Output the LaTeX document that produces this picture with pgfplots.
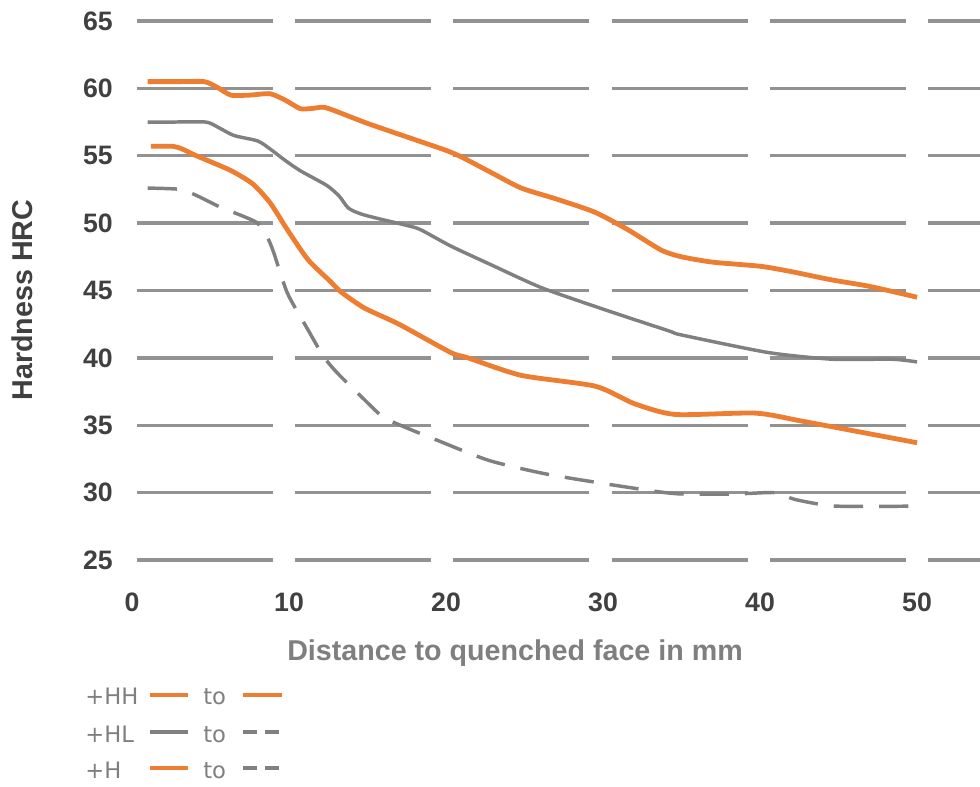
\documentclass[border=0pt]{standalone}
\usepackage{pgfplots}
\pgfplotsset{compat=1.18}
\usepackage{fontspec}
\setmainfont{Liberation Sans}
\newfontfamily\legendfont{DejaVu Sans}
\definecolor{hhorange}{HTML}{ED7D31}
\definecolor{sergray}{HTML}{808080}
\definecolor{gridgray}{HTML}{929292}
\definecolor{tickgray}{HTML}{404040}
\definecolor{labelgray}{HTML}{7F7F7F}
\begin{document}
\begin{tikzpicture}
\path[use as bounding box] (-99pt,-170.25pt) rectangle (636pt,420pt);
\begin{axis}[
  at={(0,0)}, anchor=south west,
  scale only axis, width=636pt, height=404.25pt,
  xmin=0, xmax=54.01, ymin=25, ymax=65,
  xtick={0,10,20,30,40,50},
  ytick={25,30,35,40,45,50,55,60,65},
  axis line style={draw=none},
  major tick length=0pt,
  tick style={draw=none},
  ymajorgrids,
  major grid style={draw=gridgray, line width=2.6pt, dash pattern=on 102pt off 16.65pt, dash phase=114.9pt},
  /pgf/number format/assume math mode=true,
  yticklabel style={font=\fontsize{20}{20}\selectfont\bfseries, text=tickgray, anchor=east, inner sep=0pt, xshift=-14.25pt},
  xticklabel style={font=\fontsize{20}{20}\selectfont\bfseries, text=tickgray, anchor=north, inner sep=0pt, yshift=-24.75pt},
  ylabel={Hardness HRC},
  ylabel style={at={(rel axis cs:-0.1297,0.4824)}, anchor=center, font=\fontsize{21.5}{21.5}\selectfont\bfseries, text=tickgray},
  xlabel={Distance to quenched face in mm},
  xlabel style={at={(rel axis cs:0.4517,0)}, anchor=base, yshift=-75pt, font=\fontsize{21.5}{21.5}\selectfont\bfseries, text=labelgray},
  clip=false,
  every axis plot/.append style={line join=round, smooth, tension=0.4},
]
% +HL lower / +H lower (dashed gray)
\addplot[sergray, line width=2.6pt, dash pattern=on 22pt off 12pt] coordinates {
(1,52.6)(3.1,52.5)(4.2,52.0)(5.6,51.2)(7.1,50.5)(8.0,50.0)(8.6,49.0)(9.0,47.9)(9.9,44.8)(11.2,42.1)(12.2,40.1)(13.1,38.85)(14.8,36.9)(16,35.6)(17.5,34.8)(19.2,34.0)(22.7,32.4)(26.3,31.4)(29.9,30.7)(33.3,30.1)(35,29.9)(38.4,29.9)(41,30.0)(42.2,29.5)(44.8,29.0)(50,29.0)
};
% +HL upper (solid gray)
\addplot[sergray, line width=2.6pt] coordinates {
(1,57.5)(2.5,57.5)(4.7,57.5)(5.5,57.1)(6.5,56.5)(8,56.1)(8.8,55.5)(9.7,54.7)(10.7,53.9)(12.4,52.8)(13.2,52.0)(13.8,51.1)(14.8,50.6)(17.6,49.8)(18.4,49.5)(20.3,48.3)(22.7,47.0)(26.1,45.2)(30.3,43.5)(34.2,42.0)(35,41.7)(40.5,40.4)(44.6,39.9)(48.4,39.9)(50,39.7)
};
% lower orange
\addplot[hhorange, line width=3.6pt] coordinates {
(1.2,55.7)(2.6,55.7)(3.2,55.5)(4.1,55.0)(6.3,53.9)(7.7,52.9)(8.8,51.5)(9.9,49.5)(11.2,47.3)(12.65,45.65)(13.3,44.9)(14.8,43.7)(17,42.5)(20.3,40.4)(21.4,40.0)(24.8,38.7)(29.5,37.9)(32,36.6)(34.6,35.8)(39.7,35.9)(42.7,35.3)(50,33.7)
};
% upper orange
\addplot[hhorange, line width=3.6pt] coordinates {
(1,60.5)(2,60.5)(3,60.5)(4.6,60.5)(5.4,60.1)(6.3,59.5)(7.5,59.5)(8.8,59.6)(9.8,59.1)(10.7,58.5)(11.4,58.5)(12.2,58.6)(13,58.3)(15,57.4)(18,56.2)(20,55.4)(21,54.9)(22.8,53.8)(24.8,52.6)(27,51.8)(29.5,50.8)(31.6,49.5)(33.7,48.0)(35,47.5)(37,47.1)(40,46.8)(42,46.4)(44.5,45.8)(47,45.3)(50,44.5)
};
\end{axis}
% legend
\begin{scope}[every node/.style={inner sep=0pt, anchor=base west, text=labelgray, font=\legendfont\fontsize{17}{17}\selectfont}]
\node at (-35.25pt,-108.75pt) {+HH};
\node at (53.25pt,-108.75pt) {to};
\draw[hhorange, line width=3pt] (13.5pt,-101.25pt) -- (42pt,-101.25pt);
\draw[hhorange, line width=3pt] (83.25pt,-101.25pt) -- (112.5pt,-101.25pt);
\node at (-35.25pt,-136.5pt) {+HL};
\node at (53.25pt,-136.5pt) {to};
\draw[sergray, line width=3pt] (13.5pt,-128.8pt) -- (42pt,-128.8pt);
\draw[sergray, line width=3pt, dash pattern=on 10.5pt off 6pt] (83.25pt,-128.8pt) -- (112.5pt,-128.8pt);
\node at (-35.25pt,-163.5pt) {+H};
\node at (53.25pt,-163.5pt) {to};
\draw[hhorange, line width=3pt] (13.5pt,-156pt) -- (42pt,-156pt);
\draw[sergray, line width=3pt, dash pattern=on 10.5pt off 6pt] (83.25pt,-156pt) -- (112.5pt,-156pt);
\end{scope}
\end{tikzpicture}
\end{document}
